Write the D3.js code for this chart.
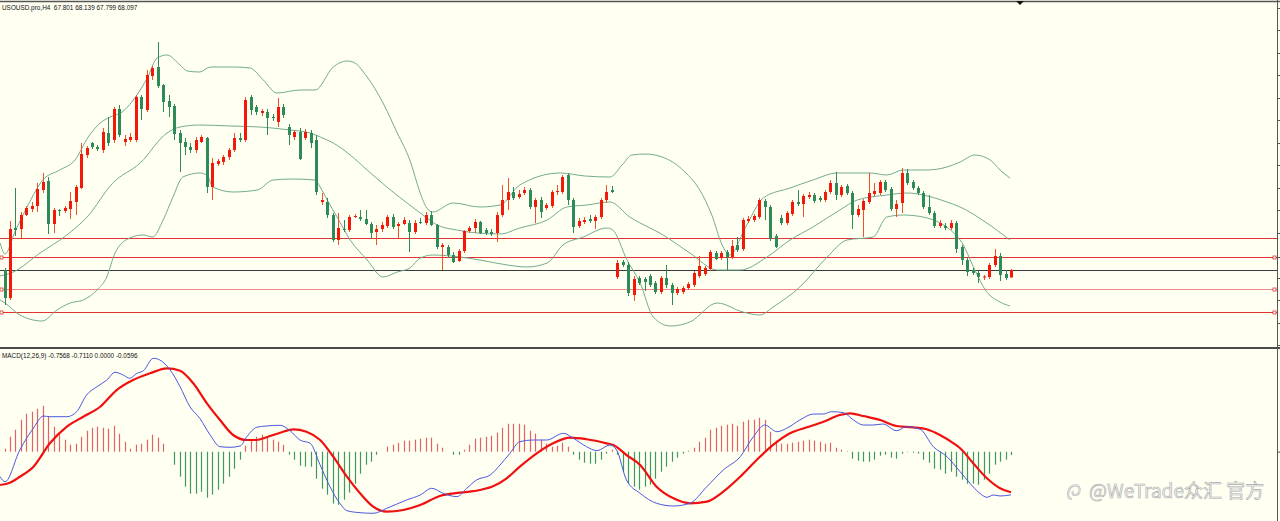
<!DOCTYPE html>
<html>
<head>
<meta charset="utf-8">
<script src="https://cdn.jsdelivr.net/npm/d3@7"></script>
<style>
  html, body { margin: 0; padding: 0; background: #fffff2; overflow: hidden; }
  svg { display: block; }
</style>
</head>
<body>
<div id="container"></div>
<script>
// ---- chart data ----
var symbolTitle = "USOUSD.pro,H4  67.801 68.139 67.799 68.097";
var macdTitle = "MACD(12,26,9) -0.7568 -0.7110 0.0000 -0.0596";

var opens = [68.10,66.98,69.78,69.74,70.30,70.54,70.66,71.30,71.66,69.94,
  70.50,70.46,70.54,70.82,71.38,72.70,73.18,73.02,72.90,73.58,
  73.30,74.54,73.22,73.30,73.30,75.02,74.50,75.86,76.22,75.50,
  74.86,74.66,73.58,73.22,73.02,72.90,73.22,73.38,71.42,72.34,
  72.42,72.62,72.90,73.38,73.30,75.02,74.62,74.38,74.42,74.22,
  74.02,74.62,73.82,73.42,73.62,73.38,73.58,73.30,70.82,70.82,
  70.30,69.30,69.74,69.70,70.22,70.22,70.14,69.94,69.62,69.74,
  69.86,70.22,69.86,69.94,69.98,69.62,70.02,69.98,70.30,69.90,
  69.02,69.02,68.70,68.46,68.86,69.66,69.78,70.02,69.70,69.62,
  69.58,70.30,70.90,71.22,71.02,71.18,71.30,70.62,70.90,70.58,
  70.66,71.22,71.22,71.90,70.90,69.86,70.02,70.14,70.06,70.22,
  70.90,71.30,67.82,68.42,68.30,67.10,67.78,67.74,67.86,67.58,
  67.22,67.78,67.50,67.18,67.22,67.38,67.50,67.86,67.94,68.14,
  68.78,68.58,68.82,68.62,69.10,68.94,70.06,70.10,70.22,70.86,
  70.62,69.46,70.18,69.98,70.34,70.82,70.74,71.02,71.10,70.98,
  70.90,71.22,71.58,71.10,71.46,71.18,70.30,70.50,70.82,71.14,
  71.18,71.62,71.34,70.54,70.78,71.98,71.62,71.38,71.18,70.62,
  70.38,69.86,69.86,69.78,69.98,69.02,68.50,68.10,67.98,67.80,
  67.82,68.30,68.66,67.94,67.801];

var highs = [68.18,70.06,71.38,70.42,70.66,70.82,71.58,71.98,71.82,70.58,
  70.54,70.66,71.22,71.50,73.18,73.06,73.22,73.10,73.78,74.22,
  74.62,74.70,73.50,73.58,75.10,75.10,76.10,76.26,77.22,75.54,
  75.10,74.74,73.70,73.38,73.18,73.42,73.50,73.42,72.58,72.54,
  72.70,72.98,73.58,73.58,75.02,75.10,74.70,74.54,74.54,74.34,
  74.98,74.74,73.94,73.70,73.78,73.74,73.70,73.50,71.18,70.98,
  70.38,70.38,70.10,70.30,70.34,70.50,70.50,70.02,69.90,70.02,
  70.30,70.34,70.02,70.22,70.10,70.10,70.18,70.42,70.46,69.94,
  69.18,69.10,68.82,68.94,69.70,69.86,70.14,70.06,69.78,69.74,
  70.42,71.50,71.78,71.42,71.30,71.42,71.38,70.98,71.02,70.78,
  71.30,71.50,71.90,71.98,70.98,70.18,70.22,70.30,70.30,70.98,
  71.50,71.46,68.50,68.50,68.42,67.86,67.86,67.82,67.94,67.66,
  67.86,68.30,67.58,67.42,67.46,67.62,68.06,68.66,68.26,68.90,
  68.86,68.86,68.90,69.30,69.42,70.18,70.26,70.34,70.98,70.94,
  70.70,69.54,70.30,70.46,70.90,71.30,71.14,71.22,71.18,71.06,
  71.30,71.70,72.02,71.50,71.54,71.26,70.70,70.94,71.98,71.58,
  71.70,71.70,71.42,70.90,72.18,72.14,71.70,71.46,71.26,71.10,
  70.46,70.10,69.98,70.10,70.06,69.10,68.58,68.18,68.10,67.90,
  68.38,68.94,68.78,68.10,68.139];

var lows = [66.70,66.90,69.46,69.38,70.26,70.42,70.42,71.18,69.54,69.58,
  70.26,70.38,70.14,70.30,71.34,72.58,72.94,72.86,72.78,73.06,
  73.18,73.42,73.06,73.22,73.22,74.10,74.42,75.70,75.38,74.42,
  74.22,73.30,72.02,72.70,72.78,72.78,73.18,71.18,70.90,72.26,
  72.30,72.50,72.82,73.22,73.22,74.30,74.30,74.26,73.50,74.06,
  73.82,74.18,73.10,73.30,72.50,73.30,72.98,71.10,70.70,70.18,
  69.22,69.10,69.62,69.62,70.18,70.06,69.90,69.38,69.10,69.62,
  69.78,69.74,69.38,69.90,68.82,69.54,69.94,69.90,69.86,68.94,
  68.10,68.58,68.38,68.42,68.78,69.58,69.58,69.54,69.50,69.46,
  69.22,70.22,70.50,70.90,70.94,71.10,70.54,69.98,70.18,70.50,
  70.58,71.10,71.14,70.70,69.58,69.78,69.94,69.98,69.74,70.14,
  70.78,71.18,67.74,68.22,67.06,66.86,67.50,67.26,67.42,67.14,
  67.14,67.38,66.70,67.10,67.14,67.30,67.42,67.78,67.86,68.06,
  68.50,68.50,68.10,68.54,68.82,68.86,69.98,70.02,70.14,70.10,
  69.26,68.98,69.90,69.90,70.26,70.66,70.22,70.94,70.78,70.82,
  70.82,71.14,70.90,71.02,71.10,69.74,70.22,69.42,70.74,71.06,
  71.10,71.22,70.46,70.22,70.38,71.50,71.30,71.10,70.54,70.30,
  69.78,69.78,69.70,69.70,68.78,68.30,67.86,67.90,67.58,67.70,
  67.74,68.22,67.66,67.70,67.799];

var closes = [66.98,69.74,69.70,70.30,70.58,70.66,71.34,71.62,69.94,70.50,
  70.46,70.58,70.86,71.42,72.74,72.98,73.02,72.94,73.62,73.18,
  74.54,73.50,73.34,73.42,75.02,74.54,75.90,76.18,75.46,74.82,
  74.62,73.54,73.18,73.02,72.90,73.30,73.42,71.42,72.38,72.46,
  72.62,72.90,73.38,73.30,74.90,74.50,74.42,74.46,74.18,74.18,
  74.62,74.30,73.50,73.62,72.54,73.62,73.18,71.22,70.90,70.30,
  69.30,69.78,69.70,70.22,70.26,70.14,69.94,69.58,69.74,69.90,
  70.22,69.82,69.94,70.10,69.62,69.98,69.98,70.30,69.90,69.02,
  69.10,68.70,68.42,68.86,69.66,69.78,70.02,69.58,69.58,69.54,
  70.30,70.90,71.22,70.98,71.14,71.30,70.62,70.90,70.42,70.70,
  71.22,71.26,71.82,70.90,69.82,70.06,70.10,70.06,70.22,70.90,
  71.22,71.22,68.38,68.30,67.18,67.74,67.58,67.62,67.50,67.22,
  67.78,67.50,67.18,67.34,67.38,67.54,67.98,68.26,68.18,68.82,
  68.54,68.78,68.62,69.06,68.90,70.10,70.14,70.26,70.90,70.62,
  69.34,69.02,69.98,70.38,70.82,70.74,71.06,71.10,70.86,70.90,
  71.22,71.58,71.10,71.42,71.18,70.30,70.54,70.86,71.18,71.26,
  71.62,71.30,70.54,70.74,71.98,71.58,71.38,71.18,70.62,70.38,
  69.86,69.98,69.78,69.98,68.94,68.50,68.02,67.98,67.82,67.84,
  68.30,68.66,67.90,67.78,68.097];

// bollinger bands, [bar, price]
var upperBand = [[-0.8,69.18],[0.1,68.74],[1.9,69.62],[4.3,70.70],[7.0,71.70],[10.1,72.10],
  [12.9,72.50],[15.3,73.42],[17.5,73.98],[19.3,74.22],[21.5,74.42],[24.2,75.10],[26.1,75.78],
  [27.9,76.58],[29.7,76.70],[32.1,76.30],[33.4,76.06],[35.7,76.02],[37.6,76.22],[41.8,76.22],
  [44.9,76.18],[47.3,75.70],[49.8,75.18],[54.0,75.30],[56.8,75.30],[60.1,76.22],[62.6,76.46],
  [63.7,76.42],[66.3,75.82],[69.2,74.78],[71.8,73.58],[74.1,72.50],[76.0,71.18],[77.2,70.58],
  [78.3,70.42],[82.0,70.78],[86.9,70.62],[90.6,70.70],[94.2,71.50],[101.6,71.98],[106.1,71.86],
  [110.7,71.82],[112.9,72.30],[114.7,72.70],[117.1,72.74],[120.7,72.58],[124.4,72.02],[127.1,71.30],
  [129.3,70.30],[131.2,69.10],[132.6,68.70],[135.4,69.78],[138.7,70.98],[143.6,71.38],[147.8,71.70],
  [152.2,71.98],[158.2,71.98],[161.3,71.90],[164.3,72.10],[168.6,72.10],[172.3,72.22],[174.7,72.42],
  [177.4,72.70],[180.2,72.50],[182.0,72.10],[183.8,71.78]];

var middleBand = [[-0.8,67.86],[1.6,68.02],[6.5,68.78],[11.4,69.50],[15.1,70.22],[19.8,71.58],
  [24.8,72.38],[29.7,73.58],[32.1,73.82],[35.7,73.90],[41.2,73.86],[46.7,73.82],[52.2,73.70],
  [55.9,73.58],[57.7,73.42],[60.1,73.18],[63.2,72.70],[66.3,72.10],[69.9,71.42],[73.6,70.78],
  [76.5,70.30],[79.1,69.90],[82.7,69.70],[86.4,69.58],[90.6,69.54],[94.2,69.78],[99.2,70.10],
  [102.8,70.62],[106.5,70.70],[110.7,70.82],[114.3,70.22],[116.2,69.98],[119.8,69.58],[125.3,68.78],
  [130.3,68.10],[134.5,68.10],[139.4,68.62],[143.6,69.30],[147.8,69.82],[152.7,70.50],[155.9,70.90],
  [161.3,71.10],[165.0,71.18],[167.9,71.10],[172.3,70.82],[174.7,70.62],[179.3,70.02],[183.8,69.30]];

var lowerBand = [[-0.8,66.90],[0.1,66.78],[2.8,66.30],[6.9,66.06],[9.6,66.50],[12.0,66.78],
  [14.4,66.90],[16.9,67.30],[18.7,67.82],[20.2,68.78],[22.9,69.38],[25.3,69.50],[27.1,69.42],
  [29.0,70.10],[30.8,71.02],[32.6,71.82],[35.7,71.98],[37.0,71.90],[38.1,71.42],[41.8,71.22],
  [46.2,71.30],[49.1,71.70],[52.7,71.74],[56.8,71.70],[57.7,71.42],[59.0,70.90],[60.8,70.22],
  [63.2,69.30],[66.3,68.50],[69.2,67.82],[71.8,68.02],[74.1,68.18],[76.0,68.58],[78.3,68.70],
  [83.3,68.62],[86.9,68.50],[91.9,68.30],[95.5,68.22],[99.2,68.38],[102.1,69.10],[105.8,69.42],
  [110.1,69.78],[111.2,69.70],[113.8,68.50],[116.2,67.58],[118.6,66.22],[121.7,65.86],[125.3,66.02],
  [130.3,66.78],[135.0,66.42],[138.1,66.30],[140.5,66.62],[145.4,67.42],[150.4,68.62],[154.0,69.30],
  [158.8,69.42],[161.3,70.22],[164.3,70.30],[167.9,70.22],[174.7,69.30],[177.4,68.10],[179.3,67.30],
  [182.0,66.82],[183.8,66.66]];

// horizontal levels
var levelPrices = [69.37, 68.63, 67.34, 66.43];
var levelHasMarker = [false, true, true, true];
var bidPrice = 68.097;
var priceTicks = [78.58,77.70,76.78,75.90,74.98,74.10,73.18,72.30,71.38,70.50,69.58,68.62,67.78,66.90,65.98,65.10];

// MACD, [bar, value]
var macdMain = [[-0.8,-0.439],[0.1,-0.526],[2.8,0.030],[5.3,0.416],[7.1,0.626],[8.3,0.614],
  [11.4,0.614],[13.2,0.702],[15.0,0.995],[16.9,1.140],[18.7,1.258],[20.2,1.393],[21.7,1.346],
  [22.9,1.288],[24.2,1.375],[25.4,1.421],[27.2,1.639],[28.4,1.609],[30.3,1.433],[32.1,1.140],
  [33.9,0.789],[35.7,0.586],[37.6,0.293],[39.4,0.088],[41.2,0.077],[43.1,0.100],[44.3,0.263],
  [46.1,0.428],[47.9,0.451],[50.4,0.463],[52.2,0.368],[54.0,0.205],[55.9,0.147],[57.7,-0.233],
  [59.5,-0.614],[61.3,-0.905],[62.6,-1.035],[65.0,-1.070],[67.4,-1.081],[69.9,-0.993],[73.5,-0.847],
  [76.0,-0.760],[78.1,-0.642],[80.2,-0.730],[82.7,-0.789],[84.5,-0.642],[86.3,-0.496],[88.8,-0.409],
  [90.6,-0.233],[92.4,-0.028],[94.2,0.175],[96.7,0.205],[99.1,0.205],[102.2,0.323],[104.0,0.235],
  [106.4,0.088],[108.3,0.018],[110.7,0.118],[111.9,0.030],[113.7,-0.496],[116.2,-0.730],[119.2,-0.905],
  [122.3,-0.953],[125.3,-0.905],[128.4,-0.614],[131.4,-0.321],[134.5,-0.088],[136.9,0.263],[139.0,0.468],
  [141.2,0.351],[143.0,0.411],[145.4,0.556],[147.9,0.661],[149.7,0.661],[151.2,0.702],[153.4,0.684],
  [155.2,0.556],[157.0,0.468],[158.8,0.468],[160.6,0.486],[163.1,0.368],[164.9,0.439],[167.4,0.393],
  [169.8,0.088],[172.3,-0.088],[174.7,-0.351],[176.5,-0.554],[178.3,-0.730],[179.6,-0.800],[180.8,-0.760],
  [182.0,-0.777],[184.0,-0.7568]];

var macdSignal = [[-0.8,-0.584],[1.0,-0.544],[2.8,-0.439],[5.3,-0.263],[8.3,0.147],[11.4,0.439],
  [14.4,0.614],[17.5,0.789],[20.5,1.082],[23.5,1.258],[26.6,1.375],[29.7,1.463],[32.1,1.421],
  [34.5,1.200],[37.0,0.849],[39.4,0.556],[41.8,0.293],[44.3,0.205],[46.1,0.205],[47.9,0.253],
  [50.4,0.333],[52.8,0.393],[55.2,0.351],[57.7,0.205],[60.1,-0.088],[62.6,-0.439],[65.0,-0.730],
  [67.4,-0.965],[69.9,-1.053],[72.9,-1.023],[76.0,-0.935],[79.6,-0.777],[83.3,-0.719],[86.9,-0.672],
  [89.4,-0.602],[91.8,-0.467],[94.2,-0.263],[97.3,-0.028],[100.3,0.147],[103.4,0.246],[106.4,0.218],
  [110.1,0.147],[111.3,0.118],[113.7,-0.058],[116.2,-0.233],[119.2,-0.614],[122.3,-0.818],[125.3,-0.905],
  [128.4,-0.877],[131.4,-0.702],[134.5,-0.439],[137.5,-0.146],[140.5,0.118],[143.6,0.323],[146.7,0.428],
  [149.7,0.526],[152.7,0.644],[154.6,0.674],[157.0,0.626],[160.1,0.556],[163.1,0.451],[166.1,0.428],
  [168.6,0.393],[171.0,0.293],[173.5,0.147],[174.7,0.060],[177.1,-0.204],[179.6,-0.467],[182.0,-0.642],
  [184.0,-0.711]];

var macdHist = [0.053,0.263,0.386,0.561,0.667,0.702,0.754,0.807,0.614,0.439,
  0.316,0.211,0.123,0.140,0.263,0.368,0.421,0.439,0.421,0.404,
  0.456,0.316,0.175,0.053,0.123,0.140,0.211,0.298,0.246,0.140,
  0,-0.228,-0.439,-0.614,-0.737,-0.737,-0.702,-0.807,-0.754,-0.667,
  -0.561,-0.439,-0.298,-0.140,0.105,0.211,0.263,0.298,0.263,0.211,
  0.175,0.123,-0.053,-0.140,-0.246,-0.263,-0.263,-0.474,-0.649,-0.754,
  -0.912,-0.930,-0.842,-0.719,-0.561,-0.386,-0.228,-0.175,-0.053,0,
  0.088,0.123,0.158,0.193,0.193,0.211,0.228,0.246,0.246,0.140,
  0.070,0,-0.053,-0.053,0.035,0.123,0.228,0.246,0.263,0.281,
  0.333,0.421,0.491,0.491,0.491,0.474,0.368,0.316,0.211,0.140,
  0.088,0.105,0.158,0.088,-0.053,-0.140,-0.193,-0.211,-0.211,-0.140,
  -0.035,0.035,-0.053,-0.351,-0.561,-0.614,-0.667,-0.614,-0.579,-0.474,
  -0.351,-0.263,-0.175,-0.105,-0.035,0.018,0.070,0.175,0.246,0.386,
  0.421,0.456,0.474,0.491,0.456,0.526,0.561,0.561,0.596,0.561,
  0.351,0.193,0.140,0.140,0.158,0.175,0.193,0.211,0.193,0.175,
  0.140,0.158,0.070,0.035,0.009,-0.123,-0.158,-0.175,-0.175,-0.140,
  -0.070,-0.053,-0.105,-0.123,-0.035,-0.009,-0.018,-0.035,-0.140,-0.193,
  -0.298,-0.316,-0.386,-0.351,-0.439,-0.491,-0.561,-0.561,-0.579,-0.491,
  -0.386,-0.228,-0.175,-0.140,-0.0596];

var watermark = "@WeTrade众汇 官方";

// ---- layout ----
var width = 1280,
    height = 521;
var axisX = 1277;
var mainTop = 4, mainBottom = 347;
var subTop = 349, subBottom = 521;

var upColor = "#f2190b", downColor = "#2e8b57";

var svg = d3.select("#container").append("svg")
    .attr("width", width)
    .attr("height", height)
    .style("background", "#fffff2")
    .style("font-family", "'Liberation Sans', 'DejaVu Sans', sans-serif");

var x = d3.scaleLinear().domain([0, 184]).range([4.5, 1011]);
var y = d3.scaleLinear().domain([65.02, 78.74]).range([mainBottom, mainTop]);
var ym = d3.scaleLinear().domain([-1.216, 1.802]).range([subBottom, subTop]);

var defs = svg.append("defs");
defs.append("clipPath").attr("id", "clipMain")
    .append("rect").attr("x", 0).attr("y", mainTop).attr("width", axisX).attr("height", mainBottom - mainTop);
defs.append("clipPath").attr("id", "clipSub")
    .append("rect").attr("x", 0).attr("y", subTop + 1).attr("width", axisX).attr("height", subBottom - subTop);

var gMain = svg.append("g").attr("clip-path", "url(#clipMain)");
var gSub = svg.append("g").attr("clip-path", "url(#clipSub)");

// level lines
gMain.selectAll(".level")
    .data(levelPrices)
    .enter().append("line")
    .attr("class", "level")
    .attr("x1", 0).attr("x2", axisX)
    .attr("y1", d => Math.round(y(d)) + 0.5)
    .attr("y2", d => Math.round(y(d)) + 0.5)
    .attr("stroke", (d, i) => i == 2 ? "#f08888" : "#e23232")
    .attr("stroke-width", 1);

levelPrices.forEach(function (p, i) {
    if (!levelHasMarker[i]) return;
    [1.5, axisX - 2.5].forEach(function (mx) {
        gMain.append("rect")
            .attr("x", mx - 1.5).attr("y", Math.round(y(p)) - 1)
            .attr("width", 3).attr("height", 3)
            .attr("fill", "#fffff2")
            .attr("stroke", "#e23232")
            .attr("stroke-width", 0.8);
    });
});

// bid line
gMain.append("line")
    .attr("x1", 0).attr("x2", axisX)
    .attr("y1", Math.round(y(bidPrice)) + 0.5)
    .attr("y2", Math.round(y(bidPrice)) + 0.5)
    .attr("stroke", "#3a3a3a")
    .attr("stroke-width", 1);

// bollinger bands
var bandLine = d3.line()
    .x(d => x(d[0]))
    .y(d => y(d[1]))
    .curve(d3.curveMonotoneX);

[upperBand, middleBand, lowerBand].forEach(function (band) {
    gMain.append("path")
        .attr("d", bandLine(band))
        .attr("fill", "none")
        .attr("stroke", "#74ab90")
        .attr("stroke-width", 1);
});

// candles
var bars = d3.range(opens.length).map(function (i) {
    return { i: i, o: opens[i], h: highs[i], l: lows[i], c: closes[i] };
});

var candle = gMain.selectAll(".candle")
    .data(bars)
    .enter().append("g")
    .attr("class", "candle");

candle.append("line")
    .attr("x1", d => Math.round(x(d.i)) + 0.5)
    .attr("x2", d => Math.round(x(d.i)) + 0.5)
    .attr("y1", d => y(d.h))
    .attr("y2", d => y(d.l))
    .attr("stroke", d => d.c >= d.o ? "#f0502a" : downColor)
    .attr("stroke-width", 1);

candle.append("rect")
    .attr("x", d => Math.round(x(d.i)) - 1)
    .attr("y", d => y(Math.max(d.o, d.c)))
    .attr("width", 3)
    .attr("height", d => Math.max(1, Math.abs(y(d.o) - y(d.c))))
    .attr("fill", d => d.c >= d.o ? upColor : downColor);

// ---- MACD panel ----
gSub.selectAll(".hist")
    .data(macdHist)
    .enter().append("line")
    .attr("class", "hist")
    .attr("x1", (d, i) => Math.round(x(i)) + 0.5)
    .attr("x2", (d, i) => Math.round(x(i)) + 0.5)
    .attr("y1", ym(0))
    .attr("y2", d => ym(d))
    .attr("stroke", d => d >= 0 ? "#e06464" : "#3d9a5c")
    .attr("stroke-width", 1.2);

var macdLine = d3.line()
    .x(d => x(d[0]))
    .y(d => ym(d[1]))
    .curve(d3.curveMonotoneX);

gSub.append("path")
    .attr("d", macdLine(macdSignal))
    .attr("fill", "none")
    .attr("stroke", "#f01010")
    .attr("stroke-width", 2.2);

gSub.append("path")
    .attr("d", macdLine(macdMain))
    .attr("fill", "none")
    .attr("stroke", "#4b57e0")
    .attr("stroke-width", 1);

// ---- frame ----
svg.append("line")
    .attr("x1", 0).attr("x2", width).attr("y1", 1.5).attr("y2", 1.5)
    .attr("stroke", "#555").attr("stroke-width", 1.5);
svg.append("line")
    .attr("x1", 0).attr("x2", width).attr("y1", 348).attr("y2", 348)
    .attr("stroke", "#4a4a4a").attr("stroke-width", 2);
svg.append("line")
    .attr("x1", axisX + 0.5).attr("x2", axisX + 0.5).attr("y1", 0).attr("y2", height)
    .attr("stroke", "#555").attr("stroke-width", 1);

svg.append("g")
    .attr("transform", "translate(" + (axisX + 0.5) + ",0)")
    .call(d3.axisRight(y).tickValues(priceTicks).tickSize(3).tickFormat(""))
    .call(g => g.select(".domain").remove())
    .selectAll("line").attr("stroke", "#555");

svg.append("g")
    .attr("transform", "translate(" + (axisX + 0.5) + ",0)")
    .call(d3.axisRight(ym).tickValues([0]).tickSize(3).tickFormat(""))
    .call(g => g.select(".domain").remove())
    .selectAll("line").attr("stroke", "#555");

// chart shift marker
svg.append("path")
    .attr("d", "M" + (x(184) + 5) + ",1 L" + (x(184) + 13) + ",1 L" + (x(184) + 9) + ",5 Z")
    .attr("fill", "#111");

// titles
svg.append("text")
    .attr("x", 2).attr("y", 10)
    .attr("font-size", "6.4px")
    .attr("fill", "#111")
    .style("white-space", "pre")
    .text(symbolTitle);

svg.append("text")
    .attr("x", 2).attr("y", 358)
    .attr("font-size", "6.4px")
    .attr("fill", "#111")
    .text(macdTitle);

// watermark
var wm = svg.append("g").attr("transform", "translate(1066,482)");
var iconPath = "M6,17 C2,17 1,12 3,8 C5,3 11,2 13,5 C15,8 13,13 9,13 C7,13 6,11 7,9";
wm.append("path")
    .attr("d", iconPath)
    .attr("fill", "none")
    .attr("stroke", "#b8b8b8")
    .attr("stroke-width", 2.2);
wm.append("path")
    .attr("d", iconPath)
    .attr("fill", "none")
    .attr("stroke", "#f6f6f6")
    .attr("stroke-width", 0.8);
svg.append("text")
    .attr("x", 1089).attr("y", 498)
    .attr("font-size", "19px")
    .attr("font-family", "'Noto Sans CJK SC', 'Noto Sans', sans-serif")
    .attr("fill", "#f3f3f3")
    .attr("stroke", "#acacac")
    .attr("stroke-width", 0.6)
    .text(watermark);
</script>
</body>
</html>
